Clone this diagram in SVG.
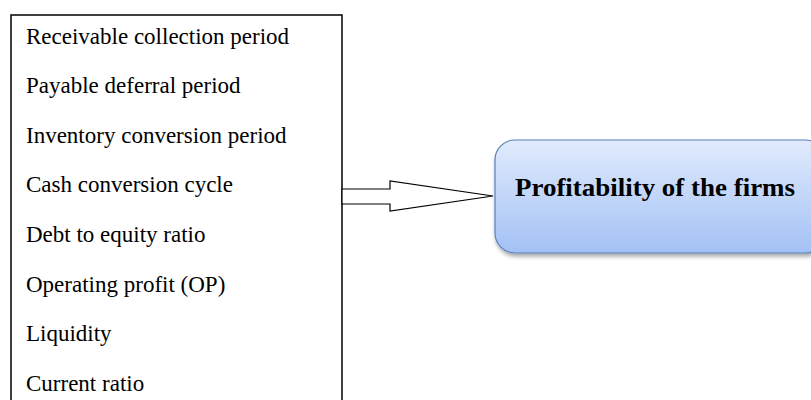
<svg xmlns="http://www.w3.org/2000/svg" width="811" height="400" viewBox="0 0 811 400">
<defs>
<linearGradient id="g" x1="0" y1="0" x2="0" y2="1">
<stop offset="0" stop-color="#e1ebfc"/>
<stop offset="1" stop-color="#a3c1f5"/>
</linearGradient>
<filter id="sh" x="-10%" y="-10%" width="130%" height="140%">
<feGaussianBlur in="SourceAlpha" stdDeviation="2"/>
<feOffset dx="1" dy="3"/>
<feComponentTransfer><feFuncA type="linear" slope="0.35"/></feComponentTransfer>
<feMerge><feMergeNode/><feMergeNode in="SourceGraphic"/></feMerge>
</filter>
<style>
.t{font-family:"Liberation Serif","Times New Roman",serif;font-size:23px;fill:#000}
.b{font-family:"Liberation Serif","Times New Roman",serif;font-size:26px;font-weight:bold;fill:#000}
</style>
</defs>
<g id="factors">
<rect x="11" y="15" width="331" height="400" fill="#fff" stroke="#000" stroke-width="1.5"/>
<text class="t" x="26" y="44">Receivable collection period</text>
<text class="t" x="26" y="93">Payable deferral period</text>
<text class="t" x="26" y="143">Inventory conversion period</text>
<text class="t" x="26" y="192">Cash conversion cycle</text>
<text class="t" x="26" y="242">Debt to equity ratio</text>
<text class="t" x="26" y="292">Operating profit (OP)</text>
<text class="t" x="26" y="341">Liquidity</text>
<text class="t" x="26" y="391">Current ratio</text>
</g>
<g id="connectors">
<path d="M342,189 H390 V181 L493,196 L390,211 V204 H342 Z" fill="#fff" stroke="#000" stroke-width="1.2"/>
</g>
<g id="profitability">
<rect x="495" y="140" width="330" height="113" rx="20" ry="20" fill="url(#g)" stroke="#5a80b8" stroke-width="1.2" filter="url(#sh)"/>
<text class="b" x="515" y="196" textLength="280" lengthAdjust="spacingAndGlyphs">Profitability of the firms</text>
</g>
</svg>
